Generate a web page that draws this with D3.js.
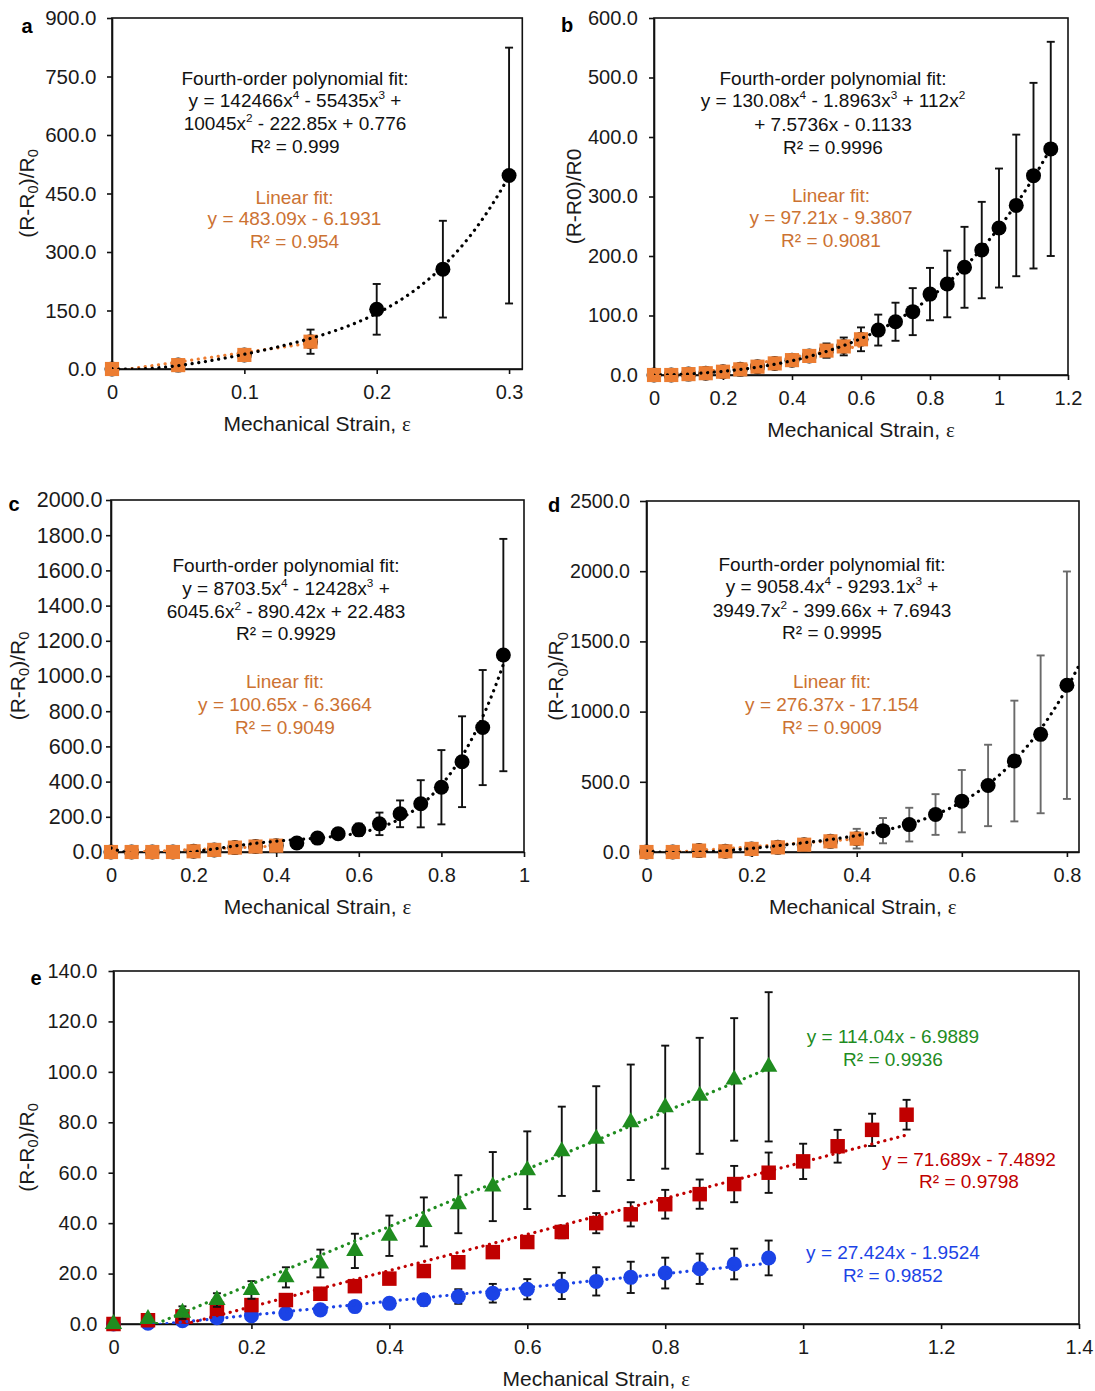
<!DOCTYPE html>
<html>
<head>
<meta charset="utf-8">
<script src="https://cdn.jsdelivr.net/npm/d3@7"></script>
<style>
  body { margin: 0; background: #fff; }
  text { font-family: "Liberation Sans", Arial, sans-serif; }
</style>
</head>
<body>
<svg id="fig" width="1095" height="1391"></svg>
<script>
// ---------------- data ----------------
// panel a
var aStrain = [0, 0.05, 0.1, 0.15, 0.2, 0.25, 0.3];
var aResp   = [0, 10, 36, 70, 153, 256, 496];
var aErr    = [0.5, 3, 13, 31, 65, 124, 328];
var aPoly   = [0.776, -222.85, 10045, -55435, 142466];
var aLin    = [-6.1931, 483.09];
var aXTicks = [0, 0.1, 0.2, 0.3];
var aYTicks = [0, 150, 300, 450, 600, 750, 900];
var aPolyText = ["Fourth-order polynomial fit:", "y = 142466x^4 - 55435x^3 +", "10045x^2 - 222.85x + 0.776", "R² = 0.999"];
var aLinText  = ["Linear fit:", "y = 483.09x - 6.1931", "R² = 0.954"];

// panel b
var bStrain = [0, 0.05, 0.1, 0.15, 0.2, 0.25, 0.3, 0.35, 0.4, 0.45, 0.5, 0.55, 0.6, 0.65, 0.7, 0.75, 0.8, 0.85, 0.9, 0.95, 1, 1.05, 1.1, 1.15];
var bResp   = [0, 0, 1.5, 3, 5.5, 9.5, 14, 19.5, 25, 32, 41, 48, 60, 75.5, 89.5, 106.5, 136, 153, 181, 210, 247, 285, 335, 380];
var bErr    = [0.5, 0.5, 1, 1, 1.5, 2, 3, 3.5, 4, 5, 12, 15, 20, 26, 32, 39.5, 44, 56, 68, 81, 100, 119, 156, 180];
var bPoly   = [-0.1133, 7.5736, 112, -1.8963, 130.08];
var bLin    = [-9.3807, 97.21];
var bXTicks = [0, 0.2, 0.4, 0.6, 0.8, 1, 1.2];
var bYTicks = [0, 100, 200, 300, 400, 500, 600];
var bPolyText = ["Fourth-order polynomial fit:", "y = 130.08x^4 - 1.8963x^3 + 112x^2", "+ 7.5736x - 0.1133", "R² = 0.9996"];
var bLinText  = ["Linear fit:", "y = 97.21x - 9.3807", "R² = 0.9081"];

// panel c
var cStrain = [0, 0.05, 0.1, 0.15, 0.2, 0.25, 0.3, 0.35, 0.4, 0.45, 0.5, 0.55, 0.6, 0.65, 0.7, 0.75, 0.8, 0.85, 0.9, 0.95];
var cResp   = [0, 0, 0, 0, 4, 12, 25, 31, 36, 51, 79, 104, 126, 160, 217, 274, 368, 513, 707, 1119];
var cErr    = [0, 1, 1, 1, 3, 5, 7, 8, 10, 12, 18, 28, 35, 64, 76, 134, 211, 258, 327, 660];
var cPoly   = [22.483, -890.42, 6045.6, -12428, 8703.5];
var cLin    = [-6.3664, 100.65];
var cXTicks = [0, 0.2, 0.4, 0.6, 0.8, 1];
var cYTicks = [0, 200, 400, 600, 800, 1000, 1200, 1400, 1600, 1800, 2000];
var cPolyText = ["Fourth-order polynomial fit:", "y = 8703.5x^4 - 12428x^3 +", "6045.6x^2 - 890.42x + 22.483", "R² = 0.9929"];
var cLinText  = ["Linear fit:", "y = 100.65x - 6.3664", "R² = 0.9049"];

// panel d
var dStrain = [0, 0.05, 0.1, 0.15, 0.2, 0.25, 0.3, 0.35, 0.4, 0.45, 0.5, 0.55, 0.6, 0.65, 0.7, 0.75, 0.8];
var dResp   = [0, 0, 10, 5, 22, 33, 52, 76, 95, 152, 195, 267, 362, 474, 648, 838, 1188];
var dErr    = [0, 2, 5, 5, 8, 10, 15, 40, 70, 90, 120, 145, 222, 290, 430, 562, 810];
var dPoly   = [7.6943, -399.66, 3949.7, -9293.1, 9058.4];
var dLin    = [-17.154, 276.37];
var dXTicks = [0, 0.2, 0.4, 0.6, 0.8];
var dYTicks = [0, 500, 1000, 1500, 2000, 2500];
var dPolyText = ["Fourth-order polynomial fit:", "y = 9058.4x^4 - 9293.1x^3 +", "3949.7x^2 - 399.66x + 7.6943", "R² = 0.9995"];
var dLinText  = ["Linear fit:", "y = 276.37x - 17.154", "R² = 0.9009"];

// panel e
var eStrainShort = [0, 0.05, 0.1, 0.15, 0.2, 0.25, 0.3, 0.35, 0.4, 0.45, 0.5, 0.55, 0.6, 0.65, 0.7, 0.75, 0.8, 0.85, 0.9, 0.95];
var eStrainLong  = [0, 0.05, 0.1, 0.15, 0.2, 0.25, 0.3, 0.35, 0.4, 0.45, 0.5, 0.55, 0.6, 0.65, 0.7, 0.75, 0.8, 0.85, 0.9, 0.95, 1, 1.05, 1.1, 1.15];
var greenResp = [0, 2, 4.5, 9.5, 13.5, 18.5, 24, 29, 35, 40.5, 47.5, 54.5, 61, 68.5, 73.5, 80, 86, 90.5, 97, 102];
var greenErr  = [0.5, 1, 2.5, 2.7, 3.5, 4, 5.5, 6.8, 8, 9.7, 11.5, 13.7, 15.4, 17.7, 20.8, 22.9, 24.4, 23, 24.3, 29.6];
var redResp   = [0, 1.5, 3, 6, 7.5, 9.5, 12, 15, 18, 21, 24.5, 28.5, 32.5, 36.5, 40, 43.5, 47.5, 51.5, 55.5, 60, 64.5, 70.5, 77, 83];
var redErr    = [0.3, 0.5, 1, 1, 1, 1, 1.2, 1.3, 1.5, 1.5, 1.5, 1.8, 2, 2.5, 4, 4.8, 5.7, 5.8, 7.2, 8, 7, 6.5, 6.4, 5.9];
var blueResp  = [0, 0.3, 1.3, 2.5, 3.3, 4.2, 5.6, 6.9, 8.2, 9.6, 10.9, 12.2, 13.8, 15.1, 16.9, 18.5, 20.2, 21.9, 23.8, 26.2];
var blueErr   = [0.2, 0.3, 0.5, 0.6, 0.8, 1, 1, 1.2, 1.8, 2.3, 2.9, 3.7, 4, 5.2, 5.6, 6.2, 6.1, 6, 6.1, 6.9];
var greenLin = [-6.9889, 114.04];
var redLin   = [-7.4892, 71.689];
var blueLin  = [-1.9524, 27.424];
var greenText = ["y = 114.04x - 6.9889", "R² = 0.9936"];
var redText   = ["y = 71.689x - 7.4892", "R² = 0.9798"];
var blueText  = ["y = 27.424x - 1.9524", "R² = 0.9852"];
var eXTicks = [0, 0.2, 0.4, 0.6, 0.8, 1, 1.2, 1.4];
var eYTicks = [0, 20, 40, 60, 80, 100, 120, 140];

// ---------------- drawing ----------------
var ORANGE = "#ec7d32", ORANGE_TXT = "#cc7232";
var GREEN = "#1f8c1f", RED = "#c00000", BLUE = "#1b43e6";
var svg = d3.select("#fig");
var xFmt = d3.format("~f"), yFmt = d3.format(".1f");

function poly(c, x){ var s = 0; for (var i = c.length - 1; i >= 0; i--) s = s * x + c[i]; return s; }

// text with ^n superscripts and _n subscripts
function rich(t, str, fs){
  var shift = 0;
  str.split(/([\^_]\d)/).forEach(function(p){
    if (p === "") return;
    var ts = t.append("tspan"), target = 0;
    if (p[0] === "^"){ target = -0.42 * fs; ts.attr("font-size", fs * 0.62); p = p.slice(1); }
    else if (p[0] === "_"){ target = 0.22 * fs; ts.attr("font-size", fs * 0.7); p = p.slice(1); }
    if (target !== shift) ts.attr("dy", target - shift);
    shift = target;
    ts.text(p);
  });
}

function frame(p){
  var x = d3.scaleLinear().domain([0, p.xMax]).range([p.left, p.right]);
  var y = d3.scaleLinear().domain([0, p.yMax]).range([p.bottom, p.top]);
  var g = svg.append("g");

  g.append("clipPath").attr("id", "clip-" + p.key)
    .append("rect").attr("x", p.left).attr("y", p.top)
    .attr("width", p.right - p.left).attr("height", p.bottom - p.top);

  var ax = g.append("g").attr("transform", "translate(0," + p.bottom + ")")
    .call(d3.axisBottom(x).tickValues(p.xTicks).tickFormat(xFmt).tickSize(5).tickSizeOuter(0).tickPadding(11));
  var ay = g.append("g").attr("transform", "translate(" + p.left + ",0)")
    .call(d3.axisLeft(y).tickValues(p.yTicks).tickFormat(yFmt).tickSize(p.yTick[0]).tickSizeOuter(0).tickPadding(p.yTick[1]));
  [ax, ay].forEach(function(a){
    a.selectAll("path,line").attr("stroke", "#111").attr("stroke-width", 1.6);
    a.selectAll("text").attr("fill", "#1a1a1a")
      .attr("font-family", '"Liberation Sans", Arial, sans-serif');
  });
  ax.selectAll("text").attr("font-size", 20);
  ay.selectAll("text").attr("font-size", p.yTick[2]);
  g.append("rect").attr("x", p.left).attr("y", p.top)
    .attr("width", p.right - p.left).attr("height", p.bottom - p.top)
    .attr("fill", "none").attr("stroke", "#111").attr("stroke-width", 1.6);

  // axis titles
  var xt = g.append("text").attr("x", (p.left + p.right) / 2).attr("y", p.bottom + 62)
    .attr("text-anchor", "middle").attr("font-size", 21).attr("fill", "#1a1a1a");
  xt.append("tspan").text("Mechanical Strain, ");
  xt.append("tspan").attr("font-family", '"Liberation Serif", serif').text("ε");
  var yt = g.append("text")
    .attr("transform", "translate(" + p.yTitleX + "," + (p.top + p.bottom) / 2 + ") rotate(-90)")
    .attr("y", 7.5).attr("text-anchor", "middle").attr("font-size", 21).attr("fill", "#1a1a1a");
  rich(yt, p.yTitle, 21);

  g.append("text").attr("x", p.label[0]).attr("y", p.label[1]).attr("text-anchor", "middle")
    .attr("font-size", 20).attr("font-weight", "bold").text(p.key);

  return {g: g, x: x, y: y};
}

function errBars(g, x, y, xs, ms, es, color){
  xs.forEach(function(xv, i){
    var x0 = x(xv), y1 = y(ms[i] + es[i]), y2 = y(ms[i] - es[i]);
    var eb = g.append("g").attr("stroke", color).attr("stroke-width", 1.9);
    eb.append("line").attr("x1", x0).attr("x2", x0).attr("y1", y1).attr("y2", y2);
    eb.append("line").attr("x1", x0 - 4).attr("x2", x0 + 4).attr("y1", y1).attr("y2", y1);
    eb.append("line").attr("x1", x0 - 4).attr("x2", x0 + 4).attr("y1", y2).attr("y2", y2);
  });
}

function dotted(g, key, pts, color){
  g.append("path").datum(pts)
    .attr("clip-path", "url(#clip-" + key + ")")
    .attr("d", d3.line().x(function(d){ return d[0]; }).y(function(d){ return d[1]; }))
    .attr("fill", "none").attr("stroke", color).attr("stroke-width", 3.2)
    .attr("stroke-linecap", "round").attr("stroke-dasharray", "0.1 6.6");
}

function textBlock(g, lines, cx, ys, color){
  lines.forEach(function(s, i){
    var t = g.append("text").attr("x", cx).attr("y", ys[i]).attr("text-anchor", "middle")
      .attr("font-size", 19).attr("fill", color);
    rich(t, s, 19);
  });
}

var panels = [
  {key: "a", left: 112, right: 522.3, top: 18, bottom: 369, xMax: 0.31, yMax: 900,
   xTicks: aXTicks, yTicks: aYTicks, strain: aStrain, resp: aResp, err: aErr, nLin: 4,
   poly: aPoly, lin: aLin, polyEnd: 0.3, polyText: aPolyText, linText: aLinText,
   yTick: [5, 10.5, 20.5], yTitle: "(R-R_0)/R_0", yTitleX: 26, label: [27, 33], errColor: "#111",
   polyX: 295, polyY: [85, 107, 130, 153], linX: 294.5, linY: [203.5, 225, 247.5]},
  {key: "b", left: 654, right: 1068, top: 18, bottom: 375, xMax: 1.2, yMax: 600,
   xTicks: bXTicks, yTicks: bYTicks, strain: bStrain, resp: bResp, err: bErr, nLin: 13,
   poly: bPoly, lin: bLin, polyEnd: 1.15, polyText: bPolyText, linText: bLinText,
   yTick: [5, 11, 20], yTitle: "(R-R0)/R0", yTitleX: 573, label: [567, 32], errColor: "#111",
   polyX: 833, polyY: [85, 107, 130.5, 153.5], linX: 831, linY: [202, 224, 247]},
  {key: "c", left: 111, right: 524, top: 500, bottom: 852, xMax: 1, yMax: 2000,
   xTicks: cXTicks, yTicks: cYTicks, strain: cStrain, resp: cResp, err: cErr, nLin: 9,
   poly: cPoly, lin: cLin, polyEnd: 0.95, polyText: cPolyText, linText: cLinText,
   yTick: [5, 3.5, 21.5], yTitle: "(R-R_0)/R_0", yTitleX: 17, label: [14, 511], errColor: "#111",
   polyX: 286, polyY: [571.5, 595, 618, 640], linX: 285, linY: [688, 710.5, 733.5]},
  {key: "d", left: 646.5, right: 1079, top: 501, bottom: 852, xMax: 0.823, yMax: 2500,
   xTicks: dXTicks, yTicks: dYTicks, strain: dStrain, resp: dResp, err: dErr, nLin: 9,
   poly: dPoly, lin: dLin, polyEnd: 0.823, polyText: dPolyText, linText: dLinText,
   yTick: [6.5, 10, 19.6], yTitle: "(R-R_0)/R_0", yTitleX: 555.5, label: [554, 512], errColor: "#6a6a6a",
   polyX: 832, polyY: [571, 593, 617, 639], linX: 832, linY: [688, 710.5, 733.5]}
];

panels.forEach(function(p){
  var f = frame(p), g = f.g, x = f.x, y = f.y;
  errBars(g, x, y, p.strain, p.resp, p.err, p.errColor);
  g.selectAll(".dot").data(p.strain).enter().append("circle")
    .attr("cx", function(d){ return x(d); })
    .attr("cy", function(d, i){ return y(p.resp[i]); })
    .attr("r", 7.5).attr("fill", "#000");
  var sq = d3.symbol().type(d3.symbolSquare).size(200);
  g.selectAll(".sq").data(p.strain.slice(0, p.nLin)).enter().append("path")
    .attr("d", sq)
    .attr("transform", function(d, i){ return "translate(" + x(d) + "," + y(p.resp[i]) + ")"; })
    .attr("fill", ORANGE);
  var linEnd = p.strain[p.nLin - 1];
  dotted(g, p.key, [[x(0), y(p.lin[0])], [x(linEnd), y(poly(p.lin, linEnd))]], ORANGE);
  var curve = d3.range(0, 301).map(function(i){ var xv = p.polyEnd * i / 300; return [x(xv), y(poly(p.poly, xv))]; });
  dotted(g, p.key, curve, "#000");
  textBlock(g, p.polyText, p.polyX, p.polyY, "#111");
  textBlock(g, p.linText, p.linX, p.linY, ORANGE_TXT);
});

// panel e
(function(){
  var p = {key: "e", left: 113.5, right: 1079, top: 971, bottom: 1324, xMax: 1.4, yMax: 140,
    xTicks: eXTicks, yTicks: eYTicks, yTick: [5, 11, 20], yTitle: "(R-R_0)/R_0", yTitleX: 26, label: [36, 985]};
  var f = frame(p), g = f.g, x = f.x, y = f.y;
  var series = [
    {xs: eStrainShort, ms: blueResp, es: blueErr, lin: blueLin, color: BLUE, shape: d3.symbolCircle, size: 177},
    {xs: eStrainLong, ms: redResp, es: redErr, lin: redLin, color: RED, shape: d3.symbolSquare, size: 210},
    {xs: eStrainShort, ms: greenResp, es: greenErr, lin: greenLin, color: GREEN, shape: d3.symbolTriangle, size: 130}
  ];
  series.forEach(function(s){
    errBars(g, x, y, s.xs, s.ms, s.es, "#111");
    var sym = d3.symbol().type(s.shape).size(s.size);
    g.append("g").selectAll("path").data(s.xs).enter().append("path")
      .attr("d", sym)
      .attr("transform", function(d, i){ return "translate(" + x(d) + "," + y(s.ms[i]) + ")"; })
      .attr("fill", s.color);
  });
  series.forEach(function(s){
    var xEnd = s.xs[s.xs.length - 1];
    dotted(g, "e", [[x(0), y(s.lin[0])], [x(xEnd), y(poly(s.lin, xEnd))]], s.color);
  });
  textBlock(g, greenText, 893, [1043, 1066], GREEN);
  textBlock(g, redText, 969, [1165.5, 1188], RED);
  textBlock(g, blueText, 893, [1259, 1282], BLUE);
})();
</script>
</body>
</html>
